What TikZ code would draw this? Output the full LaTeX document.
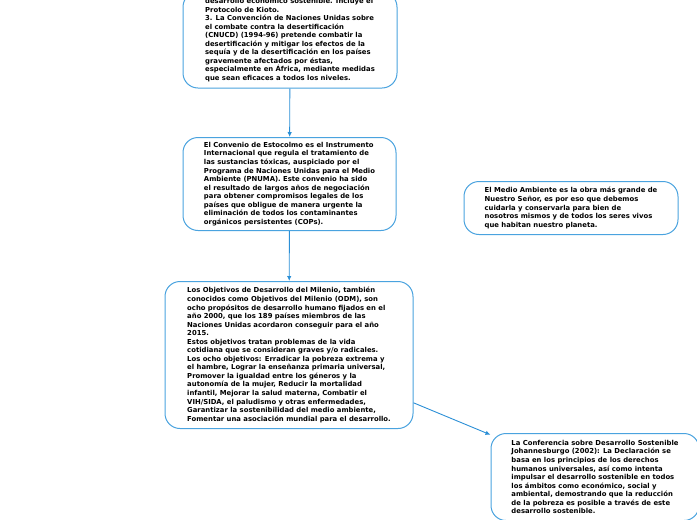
\documentclass[tikz,border=0pt]{standalone}
\usepackage{fontspec}
\setmainfont{DejaVu Sans}
\usetikzlibrary{arrows.meta}
\definecolor{boxline}{RGB}{74,163,223}
\definecolor{conn}{RGB}{43,143,214}
\begin{document}
\begin{tikzpicture}[x=1pt,y=-1pt,
  card/.style={draw=boxline,line width=1pt,rounded corners=15pt,fill=white,
    align=left,inner sep=0pt,font=\fontsize{6.85}{8.55}\selectfont\bfseries,text=black},
  link/.style={draw=conn,line width=0.9pt,-{Latex[length=5pt,width=4.5pt]}}]
\useasboundingbox (0,0) rectangle (697,520);
\node[card,minimum width=214pt,minimum height=96pt] (b1) at (290,40) {desarrollo económico sostenible. Incluye el\\
Protocolo de Kioto.\\
3. La Convención de Naciones Unidas sobre\\
el combate contra la desertificación\\
(CNUCD) (1994-96) pretende combatir la\\
desertificación y mitigar los efectos de la\\
sequía y de la desertificación en los países\\
gravemente afectados por éstas,\\
especialmente en África, mediante medidas\\
que sean eficaces a todos los niveles.};
\node[card,minimum width=213pt,minimum height=93pt] (b2) at (289.5,184) {El Convenio de Estocolmo es el Instrumento\\
Internacional que regula el tratamiento de\\
las sustancias tóxicas, auspiciado por el\\
Programa de Naciones Unidas para el Medio\\
Ambiente (PNUMA). Este convenio ha sido\\
el resultado de largos años de negociación\\
para obtener compromisos legales de los\\
países que obligue de manera urgente la\\
eliminación de todos los contaminantes\\
orgánicos persistentes (COPs).};
\node[card,minimum width=248pt,minimum height=147pt] (b3) at (289,355) {Los Objetivos de Desarrollo del Milenio, también\\
conocidos como Objetivos del Milenio (ODM), son\\
ocho propósitos de desarrollo humano fijados en el\\
año 2000, que los 189 países miembros de las\\
Naciones Unidas acordaron conseguir para el año\\
2015.\\
Estos objetivos tratan problemas de la vida\\
cotidiana que se consideran graves y/o radicales.\\
Los ocho objetivos: Erradicar la pobreza extrema y\\
el hambre, Lograr la enseñanza primaria universal,\\
Promover la igualdad entre los géneros y la\\
autonomía de la mujer, Reducir la mortalidad\\
infantil, Mejorar la salud materna, Combatir el\\
VIH/SIDA, el paludismo y otras enfermedades,\\
Garantizar la sostenibilidad del medio ambiente,\\
Fomentar una asociación mundial para el desarrollo.};
\node[card,minimum width=214pt,minimum height=53pt] (b4) at (571,208) {El Medio Ambiente es la obra más grande de\\
Nuestro Señor, es por eso que debemos\\
cuidarla y conservarla para bien de\\
nosotros mismos y de todos los seres vivos\\
que habitan nuestro planeta.};
\node[card,minimum width=208pt,minimum height=87pt] (b5) at (595,477) {La Conferencia sobre Desarrollo Sostenible\\
Johannesburgo (2002): La Declaración se\\
basa en los principios de los derechos\\
humanos universales, así como intenta\\
impulsar el desarrollo sostenible en todos\\
los ámbitos como económico, social y\\
ambiental, demostrando que la reducción\\
de la pobreza es posible a través de este\\
desarrollo sostenible.};
\draw[link] (b1) -- (b2);
\draw[link] (b2) -- (b3);
\draw[link] (b3.-21.8) -- (b5.158);
\end{tikzpicture}
\end{document}
